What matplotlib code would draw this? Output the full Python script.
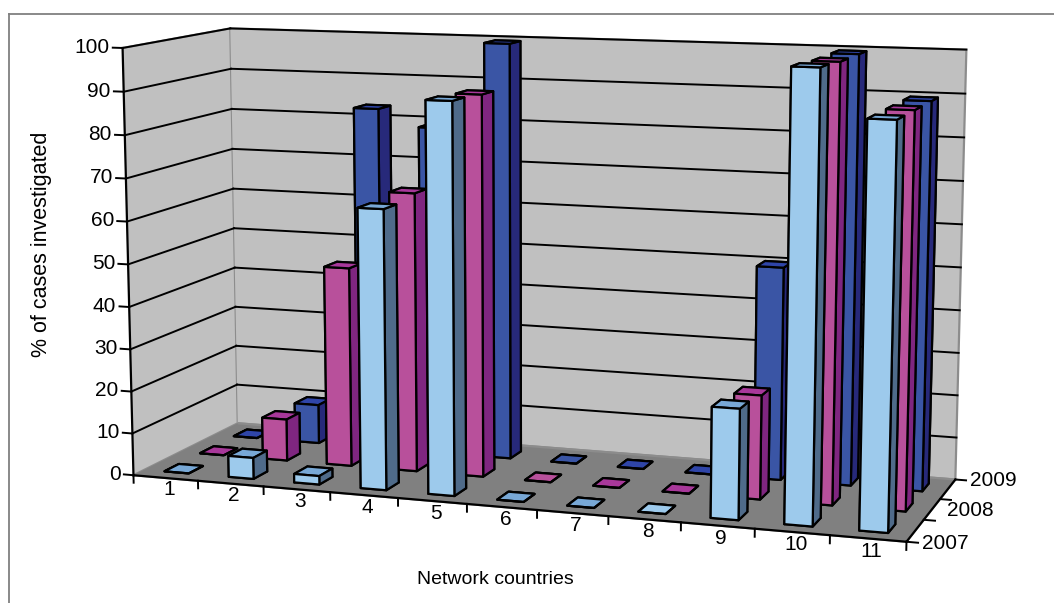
import numpy as np
import matplotlib
matplotlib.use("Agg")
import matplotlib.pyplot as plt
from matplotlib.lines import Line2D
from mpl_toolkits.mplot3d import proj3d

plt.rcParams['font.family'] = ['Liberation Sans', 'DejaVu Sans']

countries = ['1', '2', '3', '4', '5', '6', '7', '8', '9', '10', '11']
years = ['2007', '2008', '2009']
cases_2007 = [0, 5, 2, 65, 90, 0, 0, 0, 25, 100, 89.5]
cases_2008 = [0, 10, 47.5, 66, 89.5, 0, 0, 0, 24, 99.5, 89.5]
cases_2009 = [0, 9.5, 83, 79, 99.5, 0, 0, 0, 50, 99.5, 89.5]
z_ticks = [0, 10, 20, 30, 40, 50, 60, 70, 80, 90, 100]

# face colours: bottom, top, front, back, left, right
colors_2007 = ['#9DCAEC', '#78A8D6', '#9DCAEC', '#9DCAEC', '#4F6B8A', '#4F6B8A']
colors_2008 = ['#B8509B', '#A8389A', '#B8509B', '#B8509B', '#7F2680', '#7F2680']
colors_2009 = ['#3A55A5', '#2F45A8', '#3A55A5', '#3A55A5', '#27297A', '#27297A']

W = 1054
H = 603
fig = plt.figure(figsize=(W/100, H/100), dpi=100)
ax = fig.add_axes([235/W, 29/H, 600/W, 600/H], projection='3d', computed_zorder=False)
ax.patch.set_visible(False)
ax.view_init(elev=9.6, azim=-71.3)
ax.set_proj_type('persp', focal_length=0.85)
ax.set_box_aspect((766, 241, 419), zoom=1.52)

nx = len(countries)
ny = len(years)
ax.set_xlim(0, nx, view_margin=0)
ax.set_ylim(0, ny, view_margin=0)
ax.set_zlim(0, 100, view_margin=0)

ax.grid(False)
ax.set_xticks([])
ax.set_yticks([])
ax.set_zticks([])
for axis in [ax.xaxis, ax.yaxis]:
    axis.set_pane_color('#C0C0C0')
ax.zaxis.set_pane_color('#808080')
for axis in [ax.xaxis, ax.yaxis, ax.zaxis]:
    axis.line.set_linewidth(0)
    axis.pane.set_edgecolor('#8C8C8C')
    axis.pane.set_linewidth(1.6)


def line3(xs, ys, zs, lw=1.4, zorder=2):
    ax.plot(xs, ys, zs, color='k', lw=lw, zorder=zorder, clip_on=False)


def label3(x, y, z, s, ha, size=15):
    # place text at the projected spot of a 3d point
    px, py, _ = proj3d.proj_transform(x, y, z, ax.get_proj())
    ax.annotate(s, (px, py), ha=ha, va='center', fontsize=size, zorder=3, annotation_clip=False)


# gridlines on the back and side walls
for z in z_ticks[1:]:
    line3([0, nx], [ny, ny], [z, z], zorder=1)
    line3([0, 0], [0, ny], [z, z], zorder=1)

# axis lines and tick marks
line3([0, nx], [0, 0], [0, 0], lw=1.6)
line3([0, 0], [0, 0], [0, 100], lw=1.6)
line3([nx, nx], [0, ny], [0, 0], lw=1.6)
for z in z_ticks:
    line3([-0.15, 0], [0, 0], [z, z])
    label3(-0.2, 0, z, str(z), 'right')
for i in range(nx + 1):
    line3([i, i], [0, 0], [0, -1.8])
for j in range(ny + 1):
    line3([nx, nx + 0.15], [j, j], [0, 0])

for i, label in enumerate(countries):
    label3(i + 0.55, 0, -2.8, label, 'center')
for pos, label in zip([0, 1.5, 3], years):
    label3(nx + 0.2, pos, 0, label, 'left')

# bars back to front so nearer rows cover the ones behind
bar_w = 0.38
bar_d = 0.4
rows = [(2, cases_2009, colors_2009), (1, cases_2008, colors_2008), (0, cases_2007, colors_2007)]
order = 10
for j, values, colors in rows:
    for i, v in enumerate(values):
        bar = ax.bar3d(i + 0.5 - bar_w/2, j + 0.5 - bar_d/2, 0, bar_w, bar_d, v,
                       color=colors, shade=False, edgecolor='k', linewidth=1.6)
        bar.set_zorder(order)
        bar.set_clip_on(False)
        order += 1

fig.text(42/W, 1 - 244/H, '% of cases investigated', rotation=90, ha='center', va='center', fontsize=15.5)
fig.text(495/W, 1 - 579/H, 'Network countries', ha='center', va='center', fontsize=14)

# outer chart frame, open on the right and bottom
for xs, ys in [([8.5, 8.5], [0, H - 13.5]), ([8.5, W], [H - 13.5, H - 13.5])]:
    fig.add_artist(Line2D(np.array(xs)/W, np.array(ys)/H, color='#808080', lw=1.3))

fig.savefig('out.png', dpi=100)
